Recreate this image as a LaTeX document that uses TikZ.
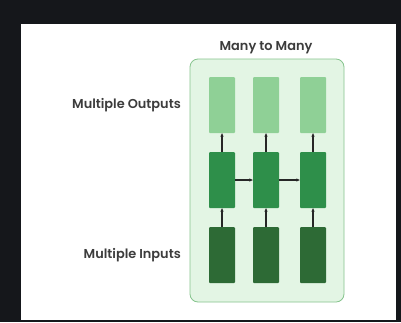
\documentclass[tikz,border=0pt]{standalone}
\usepackage{fontspec}
\setmainfont{Poppins}[BoldFont={Poppins SemiBold}]
\usetikzlibrary{arrows.meta}
\definecolor{screen}{HTML}{15171B}
\definecolor{panel}{HTML}{E3F5E4}
\definecolor{panelline}{HTML}{86C48D}
\definecolor{outgreen}{HTML}{8FD096}
\definecolor{hidgreen}{HTML}{2E8F4A}
\definecolor{ingreen}{HTML}{2D6A35}
\definecolor{labeltext}{HTML}{3C3C3C}
\begin{document}
\begin{tikzpicture}[x=1pt, y=-1pt,
        frame/.style={draw=panelline, fill=panel, line width=0.8pt,
                      minimum width=154pt, minimum height=243pt,
                      rounded corners=8pt, inner sep=0pt},
        cell/.style={fill=#1, minimum width=26pt, minimum height=56pt,
                     rounded corners=1pt, inner sep=0pt},
        caption/.style={font=\fontsize{12.9}{15}\selectfont\bfseries,
                        text=labeltext, inner sep=0pt},
        link/.style={-{Stealth[length=3.5pt, width=3.2pt]}, line width=1.1pt,
                     draw=black!85},
    ]
        % background
        \fill[screen] (0,0) rectangle (401,322);
        \fill[white] (21,24) rectangle (396,320);
        \useasboundingbox (0,0) rectangle (401,322);

        \node[frame] (main) at (267,180.5) {};
        \node[caption] (title) at (266,48) {Many to Many};

        % three time steps
        \foreach \i/\x in {1/222, 2/266, 3/313} {
            \node[cell=outgreen] (out\i) at (\x,105) {};
            \node[cell=hidgreen] (hid\i) at (\x,180) {};
            \node[cell=ingreen]  (in\i)  at (\x,255) {};
            \draw[link] (in\i) -- (hid\i);
            \draw[link] (hid\i) -- (out\i);
        }
        \draw[link] (hid1) -- (hid2);
        \draw[link] (hid2) -- (hid3);

        \node[caption, anchor=east] (outlbl) at (181,105) {Multiple Outputs};
        \node[caption, anchor=east] (inlbl) at (181,255) {Multiple Inputs};
    \end{tikzpicture}
\end{document}
